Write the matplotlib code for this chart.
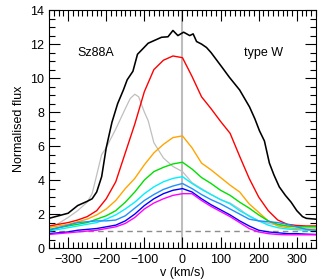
import numpy as np
import matplotlib
matplotlib.use("Agg")
import matplotlib.pyplot as plt
from matplotlib.ticker import MultipleLocator

plt.rcParams['font.family'] = ['Liberation Sans', 'DejaVu Sans']

# velocity grid (km/s) shared by the coloured profiles
v = [-350, -325, -300, -275, -250, -225, -200, -175, -150, -125, -100, -75, -50, -25, 0,
     25, 50, 75, 100, 125, 150, 175, 200, 225, 250, 275, 300, 325, 350]

red = [1.3, 1.4, 1.5, 1.65, 1.85, 2.2, 2.9, 3.9, 5.6, 7.3, 9.2, 10.5, 11.05, 11.3, 11.2,
       10.1, 8.9, 8.2, 7.45, 6.75, 5.4, 4.1, 3.0, 2.2, 1.65, 1.4, 1.33, 1.3, 1.3]
orange = [1.22, 1.3, 1.4, 1.55, 1.7, 1.95, 2.3, 2.8, 3.5, 4.1, 4.9, 5.6, 6.1, 6.5, 6.6,
          5.9, 5.0, 4.6, 4.15, 3.7, 3.3, 2.6, 2.1, 1.6, 1.3, 1.2, 1.15, 1.12, 1.12]
green = [1.1, 1.2, 1.3, 1.4, 1.5, 1.7, 1.9, 2.2, 2.7, 3.3, 4.0, 4.5, 4.75, 4.95, 5.05,
         4.65, 4.15, 3.8, 3.4, 3.1, 2.7, 2.35, 1.95, 1.6, 1.4, 1.3, 1.25, 1.25, 1.25]
cyan = [1.0, 1.1, 1.2, 1.3, 1.4, 1.5, 1.7, 1.95, 2.3, 2.7, 3.2, 3.6, 3.9, 4.1, 4.2,
        3.8, 3.45, 3.15, 2.85, 2.6, 2.2, 1.9, 1.6, 1.35, 1.2, 1.12, 1.08, 1.05, 1.05]
skyblue = [1.05, 1.2, 1.35, 1.5, 1.55, 1.6, 1.6, 1.65, 1.9, 2.35, 2.8, 3.15, 3.45, 3.65, 3.8,
           3.5, 3.15, 2.85, 2.6, 2.3, 2.0, 1.7, 1.6, 1.55, 1.5, 1.4, 1.25, 1.1, 1.05]
blue = [0.85, 0.9, 0.95, 1.05, 1.1, 1.15, 1.25, 1.35, 1.6, 2.0, 2.5, 2.9, 3.2, 3.4, 3.5,
        3.3, 2.9, 2.55, 2.25, 1.95, 1.6, 1.3, 1.05, 0.95, 0.9, 0.85, 0.85, 0.82, 0.8]
magenta = [0.8, 0.85, 0.9, 0.95, 1.0, 1.05, 1.15, 1.25, 1.45, 1.8, 2.3, 2.65, 2.9, 3.1, 3.2,
           3.2, 2.8, 2.45, 2.15, 1.85, 1.5, 1.15, 0.95, 0.85, 0.8, 0.78, 0.78, 0.78, 0.78]

# grey profile (own grid)
v_grey = [-350, -325, -300, -275, -250, -237, -225, -212, -200, -190, -175, -150, -137, -125,
          -115, -100, -90, -75, -50, -25, 0, 25, 50, 75, 100, 125, 150, 175, 200, 225, 250,
          275, 300, 325, 350]
grey = [1.2, 1.45, 1.8, 2.2, 2.7, 3.2, 4.3, 5.5, 5.9, 6.35, 7.0, 8.2, 8.8, 9.05,
        8.9, 8.0, 7.5, 6.2, 5.3, 4.8, 4.5, 3.85, 3.5, 3.15, 2.85, 2.65, 2.3, 1.85, 1.6, 1.45, 1.35,
        1.3, 1.28, 1.25, 1.25]

# black profile (own grid, jagged top)
v_black = [-350, -325, -300, -275, -250, -237, -225, -212, -200, -185, -170, -155, -145, -130,
           -118, -105, -90, -70, -55, -38, -25, -12, 3, 19, 28, 37, 50, 63, 75, 90, 105, 123,
           150, 176, 190, 202, 215, 228, 240, 254, 270, 285, 300, 315, 325, 350]
black = [1.75, 1.9, 2.05, 2.5, 2.75, 2.9, 3.3, 4.2, 5.9, 7.4, 8.5, 9.3, 9.9, 10.4,
         11.4, 11.7, 12.05, 12.25, 12.4, 12.43, 12.8, 12.5, 12.7, 12.5, 12.6, 12.15, 12.0, 11.8,
         11.5, 11.05, 10.6, 10.05, 9.3, 8.3, 7.6, 6.9, 6.3, 5.0, 4.3, 3.6, 3.1, 2.7, 2.2, 1.85,
         1.75, 1.7]

fig = plt.figure(figsize=(3.27, 2.80), dpi=100)
ax = fig.add_axes([0.150, 0.114, 0.816, 0.850])

ax.axvline(0, color='#bdbdbd', lw=1.5, zorder=1)
ax.axhline(1, color='#8c8c8c', lw=1.0, ls=(0, (4, 3)), zorder=1)

ax.plot(v_grey, grey, color='#bfbfbf', lw=0.9)
ax.plot(v_black, black, color='black', lw=1.15)
ax.plot(v, red, color='#ff0000', lw=1.0)
ax.plot(v, orange, color='#ffa500', lw=1.0)
ax.plot(v, green, color='#00e000', lw=1.0)
ax.plot(v, cyan, color='#00f0ff', lw=1.0)
ax.plot(v, skyblue, color='#1e90ff', lw=1.0)
ax.plot(v, blue, color='#0000ff', lw=1.0)
ax.plot(v, magenta, color='#ff00ff', lw=1.0)

ax.set_xlim(-350, 350)
ax.set_ylim(0, 14)
ax.xaxis.set_major_locator(MultipleLocator(100))
ax.xaxis.set_minor_locator(MultipleLocator(12.5))
ax.yaxis.set_major_locator(MultipleLocator(2))
ax.yaxis.set_minor_locator(MultipleLocator(0.5))
ax.tick_params(which='both', direction='in', top=True, right=True, labelsize=9, width=0.8)
ax.tick_params(which='major', length=8)
ax.tick_params(which='minor', length=4)
ax.tick_params(axis='x', which='major', pad=4)
for s in ax.spines.values():
    s.set_linewidth(0.8)

ax.set_xlabel('v (km/s)', fontsize=9, labelpad=1)
ax.set_ylabel('Normalised flux', fontsize=9, labelpad=4)

ax.text(-275, 11.5, 'Sz88A', fontsize=9, va='center')
ax.text(162, 11.5, 'type W', fontsize=9, va='center')

fig.savefig('out.png', dpi=100)
